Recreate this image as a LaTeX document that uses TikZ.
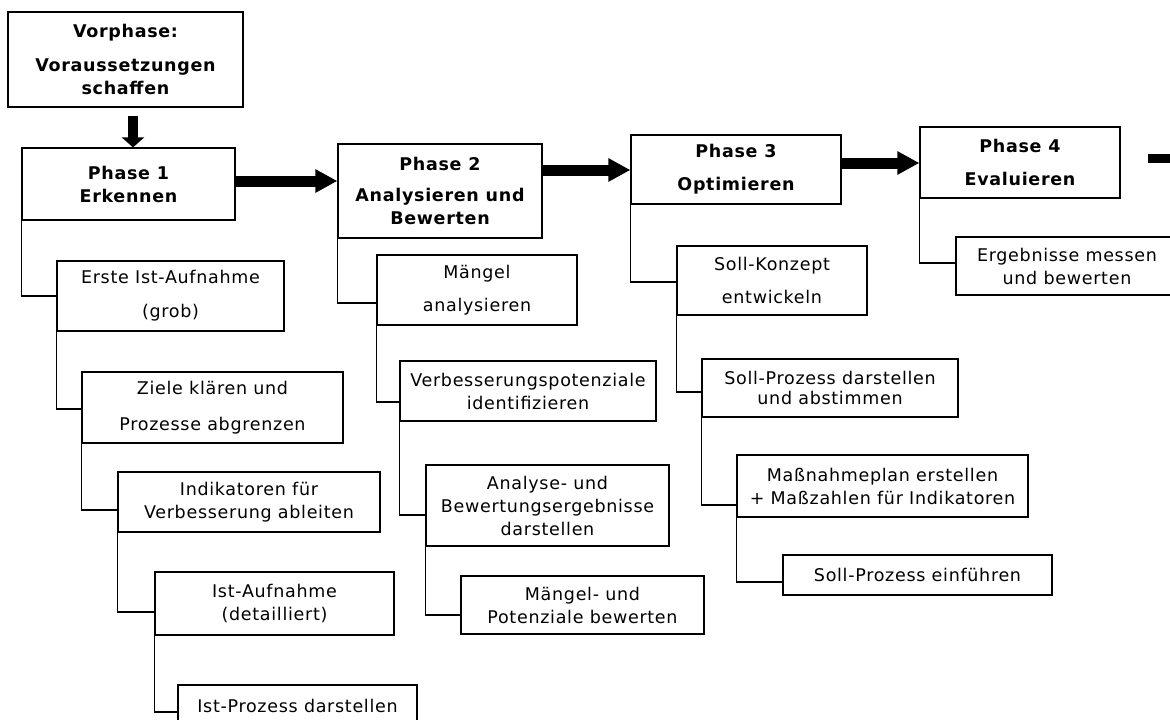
\documentclass[tikz,border=0pt]{standalone}
\usepackage{fontspec}
\setmainfont[LetterSpace=4]{DejaVu Sans}
\usetikzlibrary{arrows.meta}

% place a box by its corners: name, x1, y1, x2, y2, style, text
\newcommand\placebox[7]{%
  \node[#6, minimum width={#4-#2}, minimum height={#5-#3}] (#1)
    at ({(#2+#4)/2},{(#3+#5)/2}) {#7};}

\begin{document}
\begin{tikzpicture}[x=1pt,y=-1pt,
  box/.style={draw=black, line width=1.2pt, fill=white, inner sep=0pt,
    align=center, font=\fontsize{17.5}{23}\selectfont},
  phasebox/.style={box, font=\fontsize{17.5}{23}\selectfont\bfseries},
  link/.style={draw=black, line width=1.2pt},
  flow/.style={line width=11pt, -{Triangle[width=22pt,length=22pt]}},
  downflow/.style={line width=10pt, -{Triangle[width=22pt,length=10pt]}},
]
\useasboundingbox (0,0) rectangle (1170,720);
\fill[white] (0,0) rectangle (1170,720);
\clip (0,0) rectangle (1170,720);

% phases
\placebox{vor}{8}{12}{243}{107}{phasebox}{Vorphase:\\[11pt]Voraussetzungen\\schaffen}
\placebox{p1}{22}{148}{235}{220}{phasebox}{Phase 1\\Erkennen}
\placebox{p2}{338}{144}{542}{238}{phasebox}{Phase 2\\[8pt]Analysieren und\\Bewerten}
\placebox{p3}{631}{135}{841}{204}{phasebox}{Phase 3\\[10pt]Optimieren}
\placebox{p4}{920}{127}{1120}{198}{phasebox}{Phase 4\\[10pt]Evaluieren}

% phase 1 steps
\placebox{e1}{57}{261}{284}{331}{box}{Erste Ist-Aufnahme\\[11pt](grob)}
\placebox{e2}{82}{372}{343}{443}{box}{Ziele klären und\\[13pt]Prozesse abgrenzen}
\placebox{e3}{118}{472}{380}{532}{box}{Indikatoren für\\Verbesserung ableiten}
\placebox{e4}{155}{572}{394}{635}{box}{Ist-Aufnahme\\(detailliert)}
\placebox{e5}{178}{685}{417}{726}{box}{Ist-Prozess darstellen}

% phase 2 steps
\placebox{m1}{377}{255}{577}{325}{box}{Mängel\\[10pt]analysieren}
\placebox{m2}{400}{361}{656}{421}{box}{Verbesserungspotenziale\\identifizieren}
\placebox{m3}{426}{465}{669}{546}{box}{Analyse- und\\Bewertungsergebnisse\\darstellen}
\placebox{m4}{461}{576}{704}{634}{box}{Mängel- und\\Potenziale bewerten}

% phase 3 steps
\placebox{s1}{677}{246}{867}{315}{box}{Soll-Konzept\\[10pt]entwickeln}
\placebox{s2}{702}{359}{958}{417}{box}{Soll-Prozess darstellen\\[-3pt]und abstimmen}
\placebox{s3}{737}{455}{1028}{517}{box}{Maßnahmeplan erstellen\\+ Maßzahlen für Indikatoren}
\placebox{s4}{783}{555}{1052}{595}{box}{Soll-Prozess einführen}

% phase 4 steps
\placebox{r1}{956}{237}{1178}{295}{box}{Ergebnisse messen\\und bewerten}

% main flow
\draw[downflow, shorten <=8pt] (vor.south -| 133,0) -- (p1.north -| 133,0);
\draw[flow] (p1.east |- 0,181) -- (p2.west |- 0,181);
\draw[flow] (p2.east |- 0,170) -- (p3.west |- 0,170);
\draw[flow] (p3.east |- 0,163) -- (p4.west |- 0,163);
\coordinate (onward) at (1200,158);
\draw[line width=9pt, shorten <=27pt] (p4.east |- 0,158) -- (onward);

% step connectors
\draw[link] (p1.south west) |- (e1.west |- 0,296);
\draw[link] (e1.south west) |- (e2.west |- 0,409);
\draw[link] (e2.south west) |- (e3.west |- 0,510);
\draw[link] (e3.south west) |- (e4.west |- 0,612);
\draw[link] (e4.south west) |- (e5.west |- 0,712);

\draw[link] (p2.south west) |- (m1.west |- 0,303);
\draw[link] (m1.south west) |- (m2.west |- 0,402);
\draw[link] (m2.south west) |- (m3.west |- 0,515);
\draw[link] (m3.south west) |- (m4.west |- 0,615);

\draw[link] (p3.south west) |- (s1.west |- 0,282);
\draw[link] (s1.south west) |- (s2.west |- 0,392);
\draw[link] (s2.south west) |- (s3.west |- 0,505);
\draw[link] (s3.south west) |- (s4.west |- 0,582);

\draw[link] (p4.south west) |- (r1.west |- 0,263);
\end{tikzpicture}
\end{document}
